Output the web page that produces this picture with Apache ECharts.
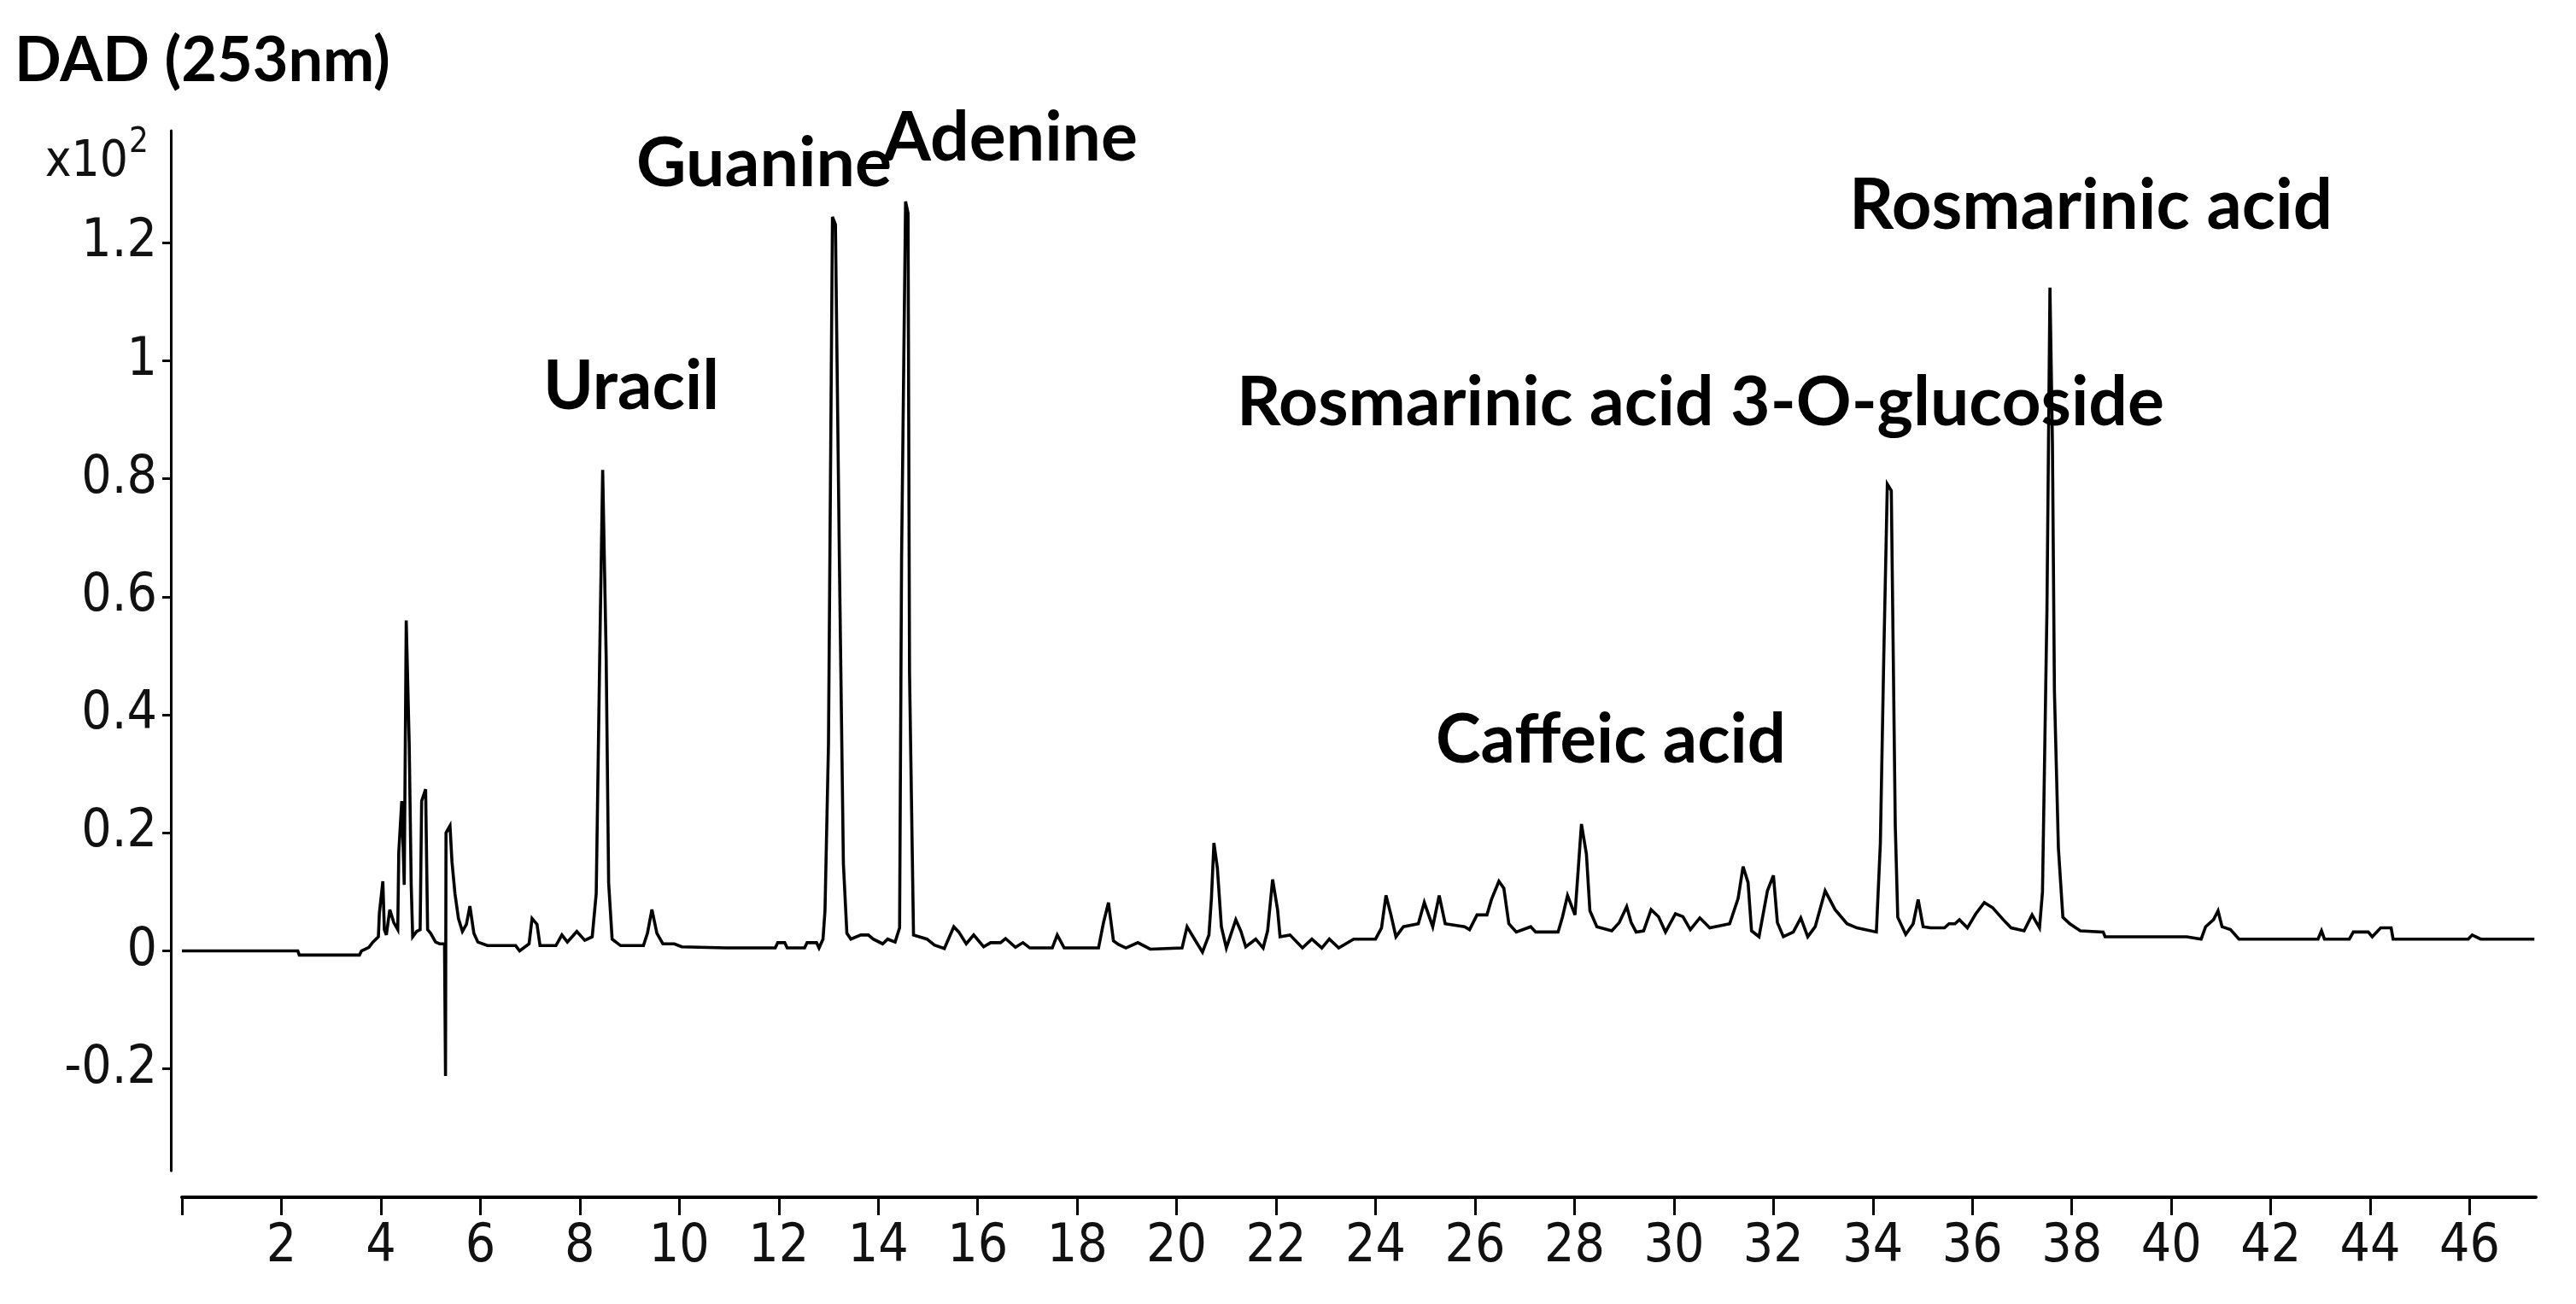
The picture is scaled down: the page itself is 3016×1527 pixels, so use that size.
<!DOCTYPE html>
<html>
<head>
<meta charset="utf-8">
<script src="https://cdn.jsdelivr.net/npm/echarts@6/dist/echarts.min.js"></script>
<style>
html,body{margin:0;padding:0;background:#ffffff;}
#chart{width:3016px;height:1527px;}
</style>
</head>
<body>
<div id="chart"></div>
<script>
// ---------- data ----------
const retentionTime = [
0,2.33,2.36,3.57,3.61,3.76,3.84,3.95,3.97,4.04,4.07,4.11,4.18,4.26,4.34,4.36,4.42,4.47,4.51,4.57,
4.61,4.64,4.72,4.79,4.82,4.90,4.94,5.00,5.10,5.18,5.28,5.30,5.31,5.39,5.43,5.49,5.56,5.64,5.72,5.79,
5.87,5.95,6.14,6.71,6.79,6.98,7.04,7.14,7.20,7.52,7.64,7.75,7.94,8.10,8.25,8.33,8.40,8.46,8.53,8.58,
8.65,8.82,9.28,9.36,9.45,9.55,9.67,9.90,10.05,10.94,11.93,11.98,12.12,12.17,12.52,12.57,12.76,12.81,12.89,12.93,
13.00,13.08,13.14,13.22,13.30,13.37,13.45,13.65,13.80,13.90,14.09,14.19,14.34,14.43,14.47,14.55,14.60,14.63,14.71,14.98,
15.13,15.33,15.52,15.62,15.77,15.92,16.12,16.26,16.46,16.56,16.76,16.91,17.05,17.50,17.60,17.74,18.43,18.53,18.63,18.73,
18.83,18.98,19.22,19.47,20.11,20.21,20.36,20.52,20.65,20.70,20.75,20.82,20.90,21.00,21.19,21.29,21.39,21.59,21.74,21.83,
21.93,22.03,22.08,22.28,22.53,22.72,22.92,23.07,23.26,23.56,24.00,24.12,24.21,24.31,24.41,24.56,24.86,24.98,25.15,25.28,
25.40,25.79,25.89,26.04,26.24,26.33,26.48,26.58,26.68,26.83,27.12,27.22,27.67,27.76,27.86,28.01,28.14,28.24,28.31,28.45,
28.75,28.90,29.05,29.14,29.24,29.39,29.54,29.69,29.83,30.03,30.18,30.33,30.52,30.72,31.12,31.29,31.39,31.49,31.56,31.71,
31.88,32.00,32.08,32.20,32.40,32.55,32.69,32.84,33.04,33.24,33.48,33.68,34.07,34.15,34.22,34.29,34.37,34.45,34.50,34.66,
34.81,34.91,35.01,35.16,35.44,35.53,35.65,35.74,35.90,36.07,36.24,36.41,36.62,36.78,37.04,37.20,37.35,37.41,37.50,37.56,
37.61,37.65,37.73,37.82,37.96,38.17,38.63,38.67,40.31,40.60,40.69,40.85,40.94,41.02,41.19,41.36,42.95,43.02,43.08,43.58,
43.66,43.96,44.04,44.21,44.42,44.46,45.97,46.05,46.22,47.30
];
const absorbance = [
0,0,-0.007,-0.007,0,0.006,0.015,0.024,0.064,0.118,0.036,0.027,0.07,0.048,0.036,0.167,0.254,0.112,0.56,0.351,
0.112,0.024,0.033,0.036,0.254,0.274,0.036,0.03,0.015,0.012,0.012,-0.212,0.2,0.212,0.151,0.097,0.055,0.033,0.045,0.076,
0.03,0.015,0.009,0.009,0.0,0.012,0.055,0.045,0.009,0.009,0.027,0.015,0.033,0.018,0.024,0.097,0.497,0.815,0.50,0.115,
0.02,0.009,0.009,0.03,0.07,0.03,0.012,0.012,0.007,0.005,0.005,0.014,0.014,0.005,0.005,0.014,0.014,0.005,0.020,0.068,
0.35,1.244,1.231,0.658,0.148,0.03,0.020,0.027,0.027,0.020,0.012,0.020,0.015,0.039,0.666,1.27,1.25,0.47,0.027,0.020,
0.010,0.004,0.041,0.032,0.012,0.027,0.007,0.014,0.014,0.021,0.006,0.014,0.005,0.005,0.027,0.005,0.005,0.048,0.082,0.017,
0.011,0.005,0.014,0.003,0.005,0.041,0.020,-0.002,0.027,0.089,0.183,0.140,0.041,0.005,0.053,0.034,0.007,0.020,0.005,0.034,
0.121,0.070,0.024,0.027,0.005,0.020,0.005,0.020,0.005,0.020,0.020,0.039,0.094,0.061,0.024,0.041,0.046,0.082,0.041,0.094,
0.046,0.041,0.036,0.061,0.061,0.087,0.118,0.106,0.046,0.032,0.041,0.032,0.032,0.058,0.094,0.061,0.215,0.164,0.068,0.041,
0.034,0.048,0.075,0.048,0.032,0.034,0.070,0.058,0.032,0.063,0.058,0.036,0.056,0.039,0.046,0.089,0.143,0.116,0.034,0.024,
0.102,0.128,0.048,0.024,0.032,0.056,0.024,0.041,0.102,0.070,0.046,0.039,0.032,0.182,0.504,0.791,0.78,0.212,0.057,0.028,
0.046,0.087,0.041,0.039,0.039,0.046,0.046,0.053,0.039,0.063,0.082,0.073,0.053,0.039,0.034,0.061,0.039,0.10,0.58,1.124,
0.86,0.44,0.174,0.057,0.046,0.034,0.032,0.024,0.024,0.020,0.041,0.053,0.068,0.041,0.036,0.020,0.020,0.034,0.020,0.020,
0.032,0.032,0.024,0.039,0.039,0.020,0.020,0.027,0.020,0.020
];
const xTickValues = [0,2,4,6,8,10,12,14,16,18,20,22,24,26,28,30,32,34,36,38,40,42,44,46];
const xLabelValues = [2,4,6,8,10,12,14,16,18,20,22,24,26,28,30,32,34,36,38,40,42,44,46];
const yTickValues = [-0.2,0,0.2,0.4,0.6,0.8,1,1.2];
const yTickLabels = ['-0.2','0','0.2','0.4','0.6','0.8','1','1.2'];
const peakNames = ['Uracil','Guanine','Adenine','Caffeic acid','Rosmarinic acid 3-O-glucoside','Rosmarinic acid'];
const signalTitle = 'DAD (253nm)';
const scaleNote = ['x10','2'];

// ---------- layout / style ----------
const boldFamily = "Lato, 'Open Sans', 'Noto Sans', sans-serif";
const narrowFamily = "'Liberation Sans Narrow', 'DejaVu Sans Condensed', 'Liberation Sans', sans-serif";
const measureCtx = document.createElement('canvas').getContext('2d');
function fitSize(text, weight, family, width) {
  measureCtx.font = weight + ' 100px ' + family;
  return 100 * width / measureCtx.measureText(text).width;
}
// [left, centerY, width] in px for each peak name
const peakLabelBoxes = [
  [636, 453, 206],
  [745, 192, 299],
  [1034, 162, 298],
  [1681, 867, 410],
  [1448, 472, 1086],
  [2165, 242, 566]
];
const graphics = [];
peakNames.forEach(function (name, i) {
  const b = peakLabelBoxes[i];
  graphics.push({
    type: 'text', x: b[0], y: b[1], silent: true,
    style: {
      text: name, fill: '#000', fontFamily: boldFamily, fontWeight: 'bold',
      fontSize: fitSize(name, 'bold', boldFamily, b[2]),
      align: 'left', verticalAlign: 'middle'
    }
  });
});
graphics.push({
  type: 'text', x: 17, y: 72, silent: true,
  style: {
    text: signalTitle, fill: '#000', fontFamily: boldFamily, fontWeight: 'bold',
    fontSize: fitSize(signalTitle, 'bold', boldFamily, 440),
    align: 'left', verticalAlign: 'middle'
  }
});
graphics.push({
  type: 'text', x: 150, y: 191, silent: true,
  style: { text: scaleNote[0], fill: '#111', fontFamily: narrowFamily, fontSize: 58, align: 'right', verticalAlign: 'middle' }
});
graphics.push({
  type: 'text', x: 151, y: 168, silent: true,
  style: { text: scaleNote[1], fill: '#111', fontFamily: narrowFamily, fontSize: 40, align: 'left', verticalAlign: 'middle' }
});

const traceData = retentionTime.map(function (t, i) { return [t, absorbance[i]]; });

const chart = echarts.init(document.getElementById('chart'), null, { renderer: 'canvas' });
chart.setOption({
  animation: false,
  backgroundColor: '#ffffff',
  grid: { left: 213, right: 47, top: 153, bottom: 156, containLabel: false, outerBoundsMode: 'none' },
  xAxis: {
    type: 'value', min: 0, max: 47.33, offset: 31,
    axisLine: { show: true, onZero: false, lineStyle: { color: '#000', width: 4 } },
    axisTick: { show: true, inside: false, length: 21, customValues: xTickValues, lineStyle: { color: '#000', width: 3 } },
    axisLabel: {
      show: true, customValues: xLabelValues, margin: 28,
      fontFamily: narrowFamily, fontSize: 62, color: '#111',
      formatter: function (v) { return String(v); }
    },
    splitLine: { show: false }
  },
  yAxis: {
    type: 'value', min: -0.3726, max: 1.39, offset: 13,
    axisLine: { show: true, onZero: false, lineStyle: { color: '#000', width: 3 } },
    axisTick: { show: true, inside: false, length: 10, customValues: yTickValues, lineStyle: { color: '#000', width: 3 } },
    axisLabel: {
      show: true, customValues: yTickValues, margin: 16,
      fontFamily: narrowFamily, fontSize: 62, color: '#111',
      formatter: function (v) {
        const idx = yTickValues.findIndex(function (t) { return Math.abs(t - v) < 1e-6; });
        return idx >= 0 ? yTickLabels[idx] : '';
      }
    },
    splitLine: { show: false }
  },
  series: [{
    type: 'line', data: traceData, showSymbol: false, symbol: 'none', smooth: false,
    sampling: null, clip: true,
    lineStyle: { color: '#000', width: 3.6, join: 'miter', miterLimit: 4 },
    emphasis: { disabled: true }
  }],
  graphic: graphics
});
</script>
</body>
</html>
